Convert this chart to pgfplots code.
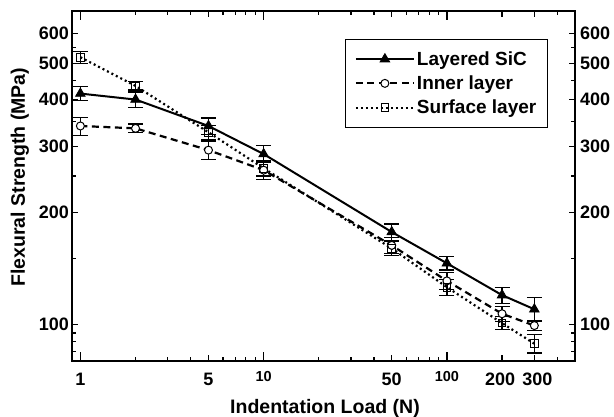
\documentclass[border=0pt]{standalone}
\usepackage{pgfplots}
\pgfplotsset{compat=1.18}
\usepackage{pgfplotstable}
\usepackage{fontspec}
\setmainfont{Liberation Sans}

\pgfplotstableread{
x y e
1 415 18
2 400 19
5 340 17
10 286 15
50 177 9
100 146 6
200 120 6
300 110 8
}\tabLayered
\pgfplotstableread{
x y e
1 340 19
2 335 9
5 293 17
10 259 14
50 163 8
100 131 7
200 107 5
300 99.5 3
}\tabInner
\pgfplotstableread{
x y e
1 519 20
2 435 11
5 327 14
10 262 12
50 160 7
100 126 6
200 101 4
300 89 5
}\tabSurface

\newcommand{\xtlfont}{\fontsize{18bp}{18bp}\selectfont\bfseries}
\newcommand{\ytlfont}{\fontsize{18bp}{18bp}\selectfont\bfseries}
\newcommand{\lbfont}{\fontsize{19.5bp}{19.5bp}\selectfont\bfseries}
\newcommand{\lgfont}{\fontsize{19bp}{19bp}\selectfont\bfseries}
\newcommand{\smalltick}[1]{\fontsize{14.5bp}{14.5bp}\selectfont\raisebox{4bp}{#1}}

\begin{document}
\begin{tikzpicture}
\path[use as bounding box] (0,0) rectangle (614bp,417bp);
\begin{axis}[
  at={(72bp,56bp)}, anchor=south west,
  scale only axis, width=503bp, height=350bp,
  xmode=log, ymode=log,
  xmin=0.9, xmax=500, ymin=80, ymax=690,
  xtick={1,5,10,50,100,200,300},
  xticklabels={1,5,{\smalltick{10}},50,{\smalltick{100}},{\hspace*{-4bp}200},{\hspace*{6bp}300}},
  minor xtick={2,3,4,6,7,8,9,20,30,40,60,70,80,90,400},
  extra x ticks={1,10,100}, extra x tick labels={},
  extra x tick style={major tick length=9bp},
  ytick={100,200,300,400,500,600},
  yticklabels={100,200,300,400,500,600},
  minor ytick={85,90,95,150,250,350,450,550},
  tick align=inside,
  major tick length=6.5bp, minor tick length=4bp,
  every tick/.style={line width=1.2bp, black},
  axis line style={line width=1.6bp},
  xticklabel style={font=\xtlfont, anchor=base, yshift=-25bp, inner sep=0pt},
  yticklabel style={font=\ytlfont, anchor=east, xshift=-3bp, inner sep=0pt},
  xlabel={Indentation Load (N)},
  ylabel={Flexural Strength (MPa)},
  xlabel style={at={(rel axis cs:0.503,-0.1486)}, anchor=base, font=\lbfont},
  ylabel style={at={(rel axis cs:-0.1034,0.525)}, anchor=center, font=\lbfont},
  legend style={at={(rel axis cs:0.946,0.92)}, anchor=north east, draw=black,
    line width=1bp, font=\lgfont, inner xsep=9bp, inner ysep=10bp,
    row sep=5bp, cells={anchor=west}},
  legend image code/.code={\draw[mark repeat=2,mark phase=2,#1] plot coordinates {(0bp,0bp) (29bp,0bp) (58bp,0bp)};},
]
\addplot[black, line width=2bp, mark=triangle*, mark size=5.5bp,
  mark options={solid, line width=0.8bp, fill=black},
  error bars/.cd, y dir=both, y explicit,
  error bar style={line width=1.2bp, solid},
  error mark options={rotate=90, mark size=7.5bp, line width=1.2bp, solid}]
  table[x=x, y=y, y error=e] {\tabLayered};
\addlegendentry{Layered SiC}
\addplot[black, line width=2.2bp, dash pattern=on 7bp off 4.5bp, mark=*, mark size=4bp,
  mark options={solid, line width=1bp, fill=white},
  error bars/.cd, y dir=both, y explicit,
  error bar style={line width=1.2bp, solid},
  error mark options={rotate=90, mark size=7.5bp, line width=1.2bp, solid}]
  table[x=x, y=y, y error=e] {\tabInner};
\addlegendentry{Inner layer}
\addplot[black, line width=2.2bp, dash pattern=on 2bp off 3bp, mark=square, mark size=3.8bp,
  mark options={solid, line width=1bp, fill=white},
  error bars/.cd, y dir=both, y explicit,
  error bar style={line width=1.2bp, solid},
  error mark options={rotate=90, mark size=7.5bp, line width=1.2bp, solid}]
  table[x=x, y=y, y error=e] {\tabSurface};
\addlegendentry{Surface layer}
\end{axis}
\begin{axis}[
  at={(72bp,56bp)}, anchor=south west,
  scale only axis, width=503bp, height=350bp,
  xmode=log, ymode=log,
  xmin=0.9, xmax=500, ymin=80, ymax=690,
  hide x axis, axis y line*=right,
  ytick={100,200,300,400,500,600},
  yticklabels={100,200,300,400,500,600},
  minor ytick={85,90,95,150,250,350,450,550},
  tick align=inside,
  major tick length=6.5bp, minor tick length=4bp,
  every tick/.style={line width=1.2bp, black},
  axis line style={line width=1.6bp, -},
  yticklabel style={font=\ytlfont, anchor=west, xshift=5bp, inner sep=0pt},
]
\end{axis}
\end{tikzpicture}
\end{document}
